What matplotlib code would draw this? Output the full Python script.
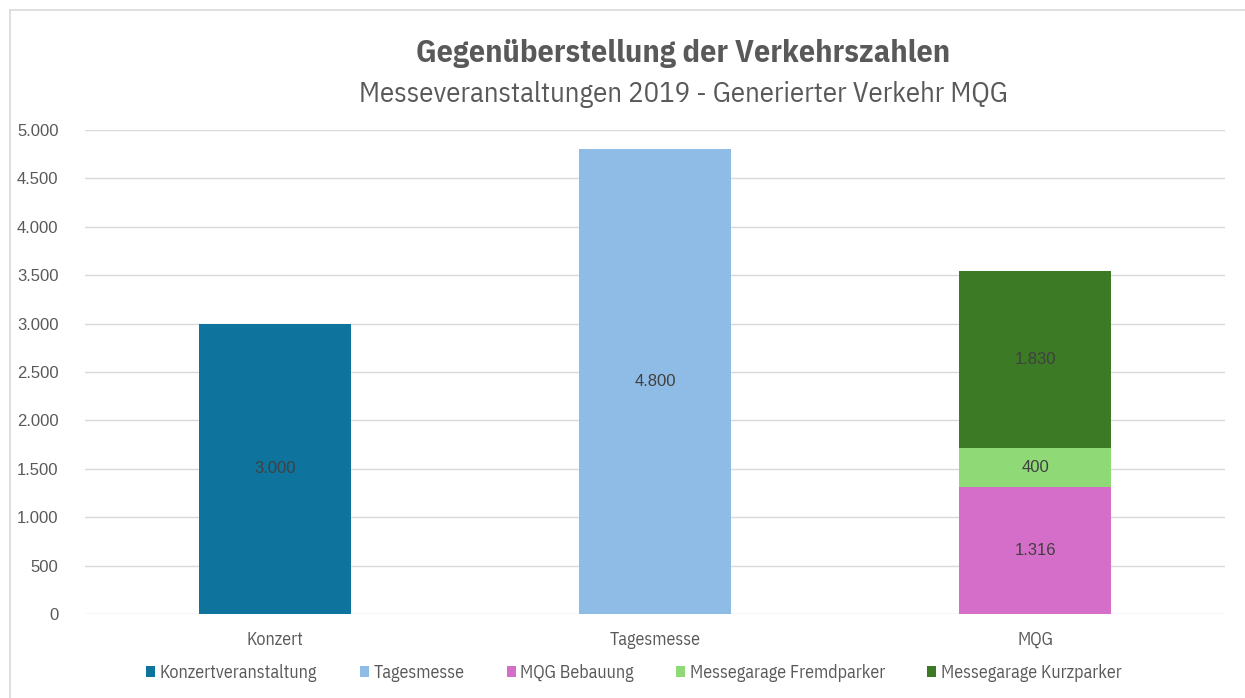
import matplotlib.pyplot as plt
import numpy as np
from matplotlib.lines import Line2D

# Daten
kategorien = ["Konzert", "Tagesmesse", "MQG"]
serien = ["Konzertveranstaltung", "Tagesmesse", "MQG Bebauung",
          "Messegarage Fremdparker", "Messegarage Kurzparker"]
konzertveranstaltung = [3000, 0, 0]
tagesmesse = [0, 4800, 0]
mqg_bebauung = [0, 0, 1316]
fremdparker = [0, 0, 400]
kurzparker = [0, 0, 1830]
werte = [konzertveranstaltung, tagesmesse, mqg_bebauung, fremdparker, kurzparker]
farben = ["#0E749E", "#8FBCE6", "#D56EC9", "#8FD977", "#3C7A25"]

# Schriften
narrow = ["IBM Plex Sans Condensed", "Open Sans Condensed", "DejaVu Sans"]
plt.rcParams["font.family"] = ["Liberation Sans", "DejaVu Sans"]

def fmt(v):
    return f"{v:,.0f}".replace(",", ".")

fig = plt.figure(figsize=(12.45, 6.98), dpi=100)
ax = fig.add_axes([85 / 1245, 1 - 614 / 698, 1140 / 1245, 484 / 698])

x = np.arange(len(kategorien))
bottom = np.zeros(len(kategorien))
for name, vals, col in zip(serien, werte, farben):
    vals = np.array(vals, dtype=float)
    bars = ax.bar(x, vals, width=0.4, bottom=bottom, color=col, label=name)
    for b, v, y0 in zip(bars, vals, bottom):
        if v > 0:
            ax.text(b.get_x() + b.get_width() / 2, y0 + v / 2, fmt(v),
                    ha="center", va="center", fontsize=12, color="#404040")
    bottom += vals

ax.set_xlim(-0.5, 2.5)
ax.set_ylim(0, 5000)
ax.set_yticks(np.arange(0, 5001, 500))
ax.set_yticklabels([fmt(v) for v in np.arange(0, 5001, 500)],
                   fontsize=12, color="#595959")
ax.set_xticks(x)
ax.set_xticklabels(kategorien, fontsize=13, color="#595959", family=narrow)
ax.tick_params(axis="both", length=0)
ax.tick_params(axis="y", pad=19)
ax.tick_params(axis="x", pad=12)
ax.grid(axis="y", color="#D9D9D9", linewidth=1)
ax.set_axisbelow(True)
for s in ax.spines.values():
    s.set_visible(False)

# Titel (im Original leicht nach rechts versetzt)
fig.text(683 / 1245, 1 - 53 / 698, "Gegenüberstellung der Verkehrszahlen",
         ha="center", va="center", fontsize=23, fontweight="bold",
         color="#595959", family=narrow)
fig.text(683 / 1245, 1 - 95 / 698, "Messeveranstaltungen 2019 - Generierter Verkehr MQG",
         ha="center", va="center", fontsize=20.7, color="#595959", family=narrow)

handles, labels = ax.get_legend_handles_labels()
leg = fig.legend(handles, labels, loc="center", bbox_to_anchor=(634 / 1245, 1 - 673 / 698),
                 ncol=5, frameon=False, handlelength=0.5, handleheight=0.5,
                 handletextpad=0.25, columnspacing=2.35,
                 prop={"family": narrow, "size": 13})
for t in leg.get_texts():
    t.set_color("#595959")

# Rahmen (nur links und oben sichtbar)
fig.add_artist(Line2D([9.5 / 1245, 9.5 / 1245], [0, 1 - 10 / 698],
                      transform=fig.transFigure, color="#D9D9D9", linewidth=1.2))
fig.add_artist(Line2D([9.5 / 1245, 1], [1 - 10 / 698, 1 - 10 / 698],
                      transform=fig.transFigure, color="#D9D9D9", linewidth=1.2))

fig.savefig("out.png", dpi=100)
